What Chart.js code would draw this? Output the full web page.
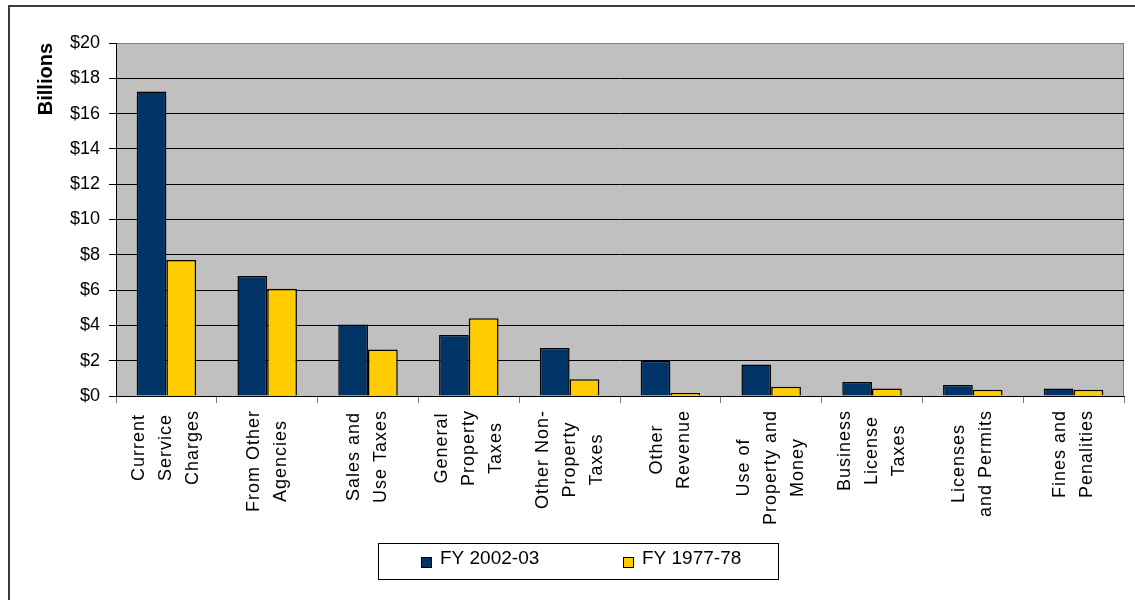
<!DOCTYPE html>
<html>
<head>
<meta charset="utf-8">
<script src="https://cdn.jsdelivr.net/npm/chart.js@4/dist/chart.umd.min.js"></script>
<style>
  html, body { margin: 0; padding: 0; background: #fff; }
  #wrap { width: 1135px; height: 600px; }
</style>
</head>
<body>
<div id="wrap"><canvas id="c" width="1135" height="600"></canvas></div>
<script>
// ---- data ----
const categories = [
  ["Current", "Service", "Charges"],
  ["From Other", "Agencies"],
  ["Sales and", "Use Taxes"],
  ["General", "Property", "Taxes"],
  ["Other Non-", "Property", "Taxes"],
  ["Other", "Revenue"],
  ["Use of", "Property and", "Money"],
  ["Business", "License", "Taxes"],
  ["Licenses", "and Permits"],
  ["Fines and", "Penalities"]
];
const fy2002_03 = [17.25, 6.8, 4.05, 3.45, 2.72, 2.0, 1.78, 0.79, 0.62, 0.43];
const fy1977_78 = [7.7, 6.08, 2.63, 4.4, 0.95, 0.17, 0.52, 0.43, 0.35, 0.35];
const seriesNames = ["FY 2002-03", "FY 1977-78"];
const yTickValues = [0, 2, 4, 6, 8, 10, 12, 14, 16, 18, 20];
const yAxisTitle = "Billions";

const FONT = '"Liberation Sans", Arial, sans-serif';

const framePlugin = {
  id: 'frame',
  beforeDraw(chart) {
    const ctx = chart.ctx, a = chart.chartArea;
    ctx.save();
    ctx.fillStyle = '#fff';
    ctx.fillRect(0, 0, chart.width, chart.height);
    // outer frame (left & top)
    ctx.strokeStyle = '#3c3c3c';
    ctx.lineWidth = 2;
    ctx.beginPath();
    ctx.moveTo(9, chart.height + 5);
    ctx.lineTo(9, 6);
    ctx.lineTo(chart.width + 5, 6);
    ctx.stroke();
    // plot area
    ctx.fillStyle = '#C0C0C0';
    ctx.fillRect(a.left, a.top, a.right - a.left, a.bottom - a.top);
    ctx.strokeStyle = '#808080';
    ctx.lineWidth = 1;
    ctx.beginPath();
    ctx.moveTo(a.left, a.top + 0.5);
    ctx.lineTo(a.right - 0.5, a.top + 0.5);
    ctx.lineTo(a.right - 0.5, a.bottom);
    ctx.stroke();
    ctx.restore();
  },
  afterDraw(chart) {
    const ctx = chart.ctx;
    const sc = chart.scales.x;
    // x category labels, lines centred on each other
    ctx.save();
    ctx.font = '18px ' + FONT;
    ctx.fillStyle = '#000';
    try { ctx.letterSpacing = '1px'; } catch (e) {}
    ctx.textAlign = 'center';
    ctx.textBaseline = 'middle';
    chart.data.labels.forEach((lines, i) => {
      const cx = sc.getPixelForTick(i);
      const w = Math.max(...lines.map(l => ctx.measureText(l).width));
      ctx.save();
      ctx.translate(cx, sc.top + 14);
      ctx.rotate(-Math.PI / 2);
      lines.forEach((l, j) => {
        ctx.fillText(l, -w / 2, (j - (lines.length - 1) / 2) * 27);
      });
      ctx.restore();
    });
    ctx.restore();

    // legend with frame
    ctx.save();
    const boxW = 400, boxH = 36;
    const left = Math.round(chart.width / 2 + 10 - boxW / 2) + 0.5;
    const top = Math.round(sc.bottom + 7) + 0.5;
    ctx.strokeStyle = '#000';
    ctx.lineWidth = 1;
    ctx.strokeRect(left, top, boxW, boxH);
    ctx.font = '19px ' + FONT;
    ctx.textAlign = 'left';
    ctx.textBaseline = 'middle';
    chart.data.datasets.forEach((ds, i) => {
      const sx = Math.round(left + 42 + i * 202);
      const sy = Math.round(top + 13);
      ctx.fillStyle = ds.backgroundColor;
      ctx.fillRect(sx, sy, 11, 11);
      ctx.strokeStyle = '#000';
      ctx.strokeRect(sx + 0.5, sy + 0.5, 10, 10);
      ctx.fillStyle = '#000';
      ctx.fillText(ds.label, sx + 19, top + 15.5);
    });
    ctx.restore();
  }
};

new Chart(document.getElementById('c'), {
  type: 'bar',
  data: {
    labels: categories,
    datasets: [
      { label: seriesNames[0], data: fy2002_03, backgroundColor: '#003366', borderColor: '#000', borderWidth: 1.5 },
      { label: seriesNames[1], data: fy1977_78, backgroundColor: '#FFCC00', borderColor: '#000', borderWidth: 1.5 }
    ]
  },
  options: {
    responsive: false,
    animation: false,
    devicePixelRatio: 1,
    layout: { padding: { top: 43, right: 11, bottom: 64, left: 30 } },
    datasets: { bar: { categoryPercentage: 0.59, barPercentage: 1.0 } },
    plugins: { legend: { display: false }, tooltip: { enabled: false } },
    scales: {
      x: {
        ticks: { display: false },
        grid: { offset: true, drawOnChartArea: false, drawTicks: true, tickLength: 7, color: '#808080' },
        border: { display: true, color: '#000', width: 1 },
        afterFit(s) { s.height = 140; }
      },
      y: {
        min: 0, max: 20,
        afterBuildTicks(s) { s.ticks = yTickValues.map(v => ({ value: v })); },
        ticks: {
          font: { family: FONT, size: 18 },
          color: '#000',
          padding: 9,
          callback: v => '$' + v
        },
        grid: {
          color: c => (c.index === c.scale.ticks.length - 1 ? '#808080' : '#000'),
          tickColor: '#000',
          tickLength: 7,
          lineWidth: 1
        },
        border: { display: true, color: '#000', width: 1 },
        title: {
          display: true, text: yAxisTitle, align: 'end', color: '#000',
          font: { family: FONT, size: 20, weight: 'bold' },
          padding: { top: 4, bottom: 4 }
        },
        afterFit(s) { s.width = 86; }
      }
    }
  },
  plugins: [framePlugin]
});
</script>
</body>
</html>
